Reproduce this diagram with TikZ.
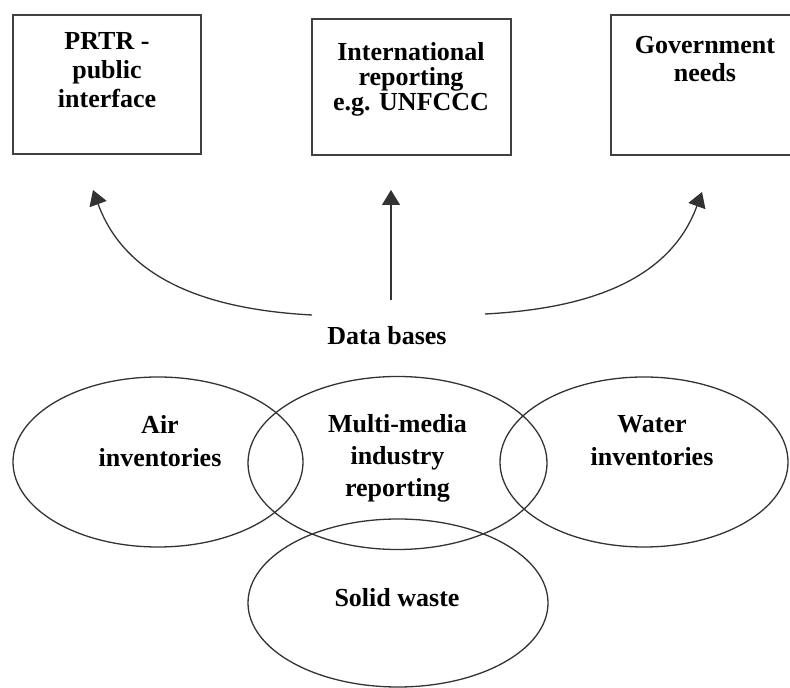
\documentclass[tikz,border=0pt]{standalone}
\usepackage{fontspec}
\setmainfont{Liberation Serif}
\usetikzlibrary{arrows.meta, shapes.geometric}

\begin{document}
\begin{tikzpicture}[x=1pt, y=1pt,
    outbox/.style={draw=black!75, line width=2pt, minimum width=188pt, minimum height=139pt, inner sep=0pt},
    media/.style={ellipse, draw=black!80, line width=1.3pt, inner sep=0pt},
    lbl/.style={align=center, inner sep=0pt, font=\bfseries\fontsize{26}{#1}\selectfont},
    lbl/.default=30,
    flow/.style={draw=black!80, line width=1.3pt, -{Triangle[length=15pt, width=18pt]}}]
      \useasboundingbox (0,0) rectangle (790,688);

      \node[outbox] (prtr) at (107,603.5) {};
      \node[outbox, minimum width=199pt, minimum height=136pt] (intl) at (411.5,601) {};
      \node[outbox, minimum height=140pt] (gov) at (705,603) {};
      \node[lbl=29, anchor=north] (prtrtxt) at (107,656) {PRTR -\\public\\interface};
      \node[lbl=25, anchor=north] (intltxt) at (411,646) {International\\reporting\\e.g. UNFCCC};
      \node[lbl=28, anchor=north] (govtxt) at (705,652) {Government\\needs};

      \node[lbl, anchor=base] (db) at (387,343) {Data bases};
      \coordinate (dbleft) at (312,373);
      \coordinate (dbmid) at (391,388);
      \coordinate (dbright) at (485,374);
      \coordinate (toprtr) at (93,498);
      \coordinate (tointl) at (391,498);
      \coordinate (togov) at (702,496);
      \draw[flow] (dbleft) to[out=177, in=-70] (toprtr);
      \draw[flow] (dbmid) -- (tointl);
      \draw[flow] (dbright) to[out=3, in=-110] (togov);

      \node[media, minimum width=290pt, minimum height=170pt] (air) at (158,226) {};
      \node[media, minimum width=299pt, minimum height=173pt] (multi) at (397.5,225) {};
      \node[media, minimum width=288pt, minimum height=170pt] (water) at (644,226) {};
      \node[media, minimum width=300pt, minimum height=168pt] (solid) at (398,85) {};
      \node[lbl=33, anchor=north] (airtxt) at (160,273) {Air\\inventories};
      \node[lbl=32, anchor=north] (multitxt) at (397.5,274) {Multi-media\\industry\\reporting};
      \node[lbl=33, anchor=north] (watertxt) at (652,273) {Water\\inventories};
      \node[lbl, anchor=base] (solidtxt) at (397,81) {Solid waste};
    \end{tikzpicture}
\end{document}
